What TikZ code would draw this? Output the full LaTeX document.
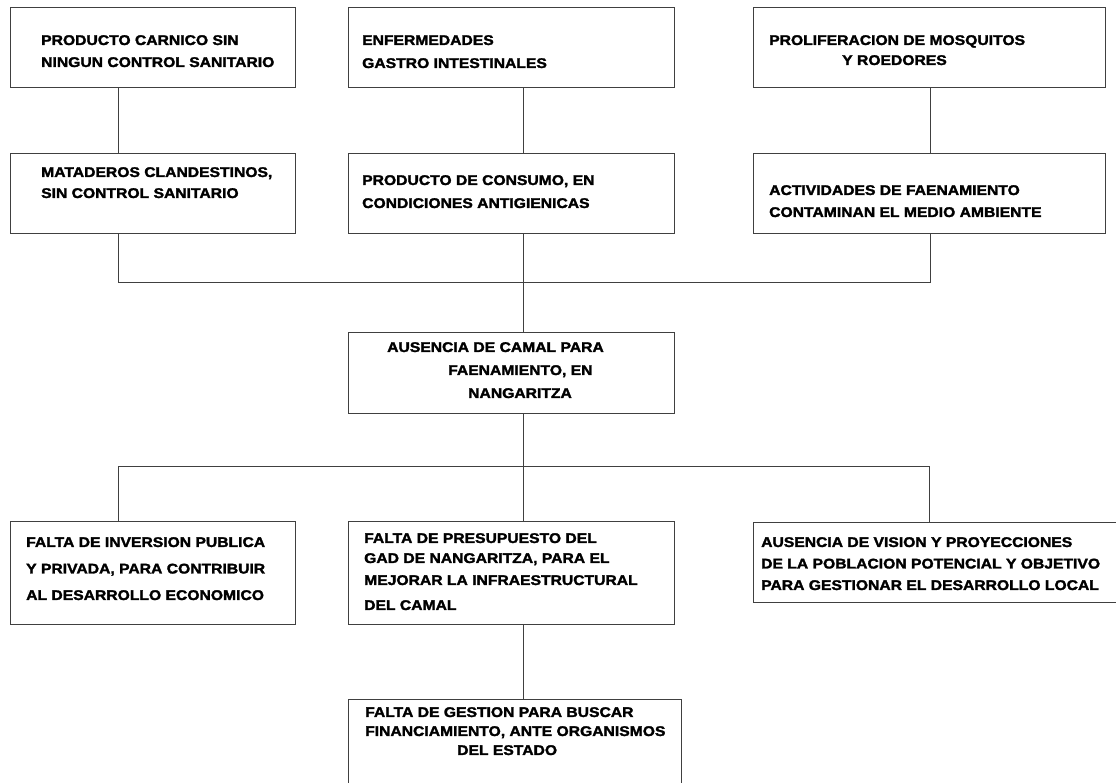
\documentclass[tikz,border=0pt]{standalone}
\usepackage{fontspec}
\newfontfamily\boxfont[FakeStretch=1.12,FakeBold=2]{Liberation Sans}
\begin{document}
\begin{tikzpicture}[x=1pt,y=-1pt,
  ln/.style={draw=black!75, line width=0.9pt},
  box/.style={ln, rectangle, inner sep=0pt, anchor=north west},
  txt/.style={anchor=north west, inner sep=0pt, align=left, text=black},
]
\useasboundingbox[fill=white] (0,0) rectangle (1116,782);
% boxes (north west corner, width, height)
\node[box, minimum width=285, minimum height=80] (b1) at (10,7) {};
\node[box, minimum width=326, minimum height=80] (b2) at (348,7) {};
\node[box, minimum width=352, minimum height=80] (b3) at (753,7) {};
\node[box, minimum width=285, minimum height=80] (b4) at (10,153) {};
\node[box, minimum width=326, minimum height=80] (b5) at (348,153) {};
\node[box, minimum width=352, minimum height=80] (b6) at (753,153) {};
\node[box, minimum width=326, minimum height=81] (c) at (348,332) {};
\node[box, minimum width=285, minimum height=103] (b7) at (10,521) {};
\node[box, minimum width=326, minimum height=103] (b8) at (348,521) {};
\node[box, minimum width=370, minimum height=80] (b9) at (753,522) {};
\node[box, minimum width=333, minimum height=110] (b10) at (348,699) {};
% texts
\node[txt, font={\boxfont\bfseries\fontsize{14}{22}\selectfont}] (t1) at (41,35)
  {PRODUCTO CARNICO SIN\\NINGUN CONTROL SANITARIO};
\node[txt, font={\boxfont\bfseries\fontsize{14}{23}\selectfont}] (t2) at (362,35)
  {ENFERMEDADES\\GASTRO INTESTINALES};
\node[txt, font={\boxfont\bfseries\fontsize{14}{20}\selectfont}] (t3) at (769,35)
  {PROLIFERACION DE MOSQUITOS\\\hspace*{73pt}Y ROEDORES};
\node[txt, font={\boxfont\bfseries\fontsize{14}{21}\selectfont}] (t4) at (41,167)
  {MATADEROS CLANDESTINOS,\\SIN CONTROL SANITARIO};
\node[txt, font={\boxfont\bfseries\fontsize{14}{23}\selectfont}] (t5) at (362,175)
  {PRODUCTO DE CONSUMO, EN\\CONDICIONES ANTIGIENICAS};
\node[txt, font={\boxfont\bfseries\fontsize{14}{22}\selectfont}] (t6) at (769,185)
  {ACTIVIDADES DE FAENAMIENTO\\CONTAMINAN EL MEDIO AMBIENTE};
\node[txt, font={\boxfont\bfseries\fontsize{14}{23}\selectfont}] (tc) at (387,342)
  {AUSENCIA DE CAMAL PARA\\\hspace*{61pt}FAENAMIENTO, EN\\\hspace*{81pt}NANGARITZA};
\node[txt, font={\boxfont\bfseries\fontsize{14}{26.5}\selectfont}] (t7) at (26,537)
  {FALTA DE INVERSION PUBLICA\\Y PRIVADA, PARA CONTRIBUIR\\AL DESARROLLO ECONOMICO};
\node[txt, font={\boxfont\bfseries\fontsize{14}{20}\selectfont}] (t8) at (364,533)
  {FALTA DE PRESUPUESTO DEL\\GAD DE NANGARITZA, PARA EL\\[2pt]MEJORAR LA INFRAESTRUCTURAL\\[5pt]DEL CAMAL};
\node[txt, font={\boxfont\bfseries\fontsize{14}{21.5}\selectfont}] (t9) at (761,537)
  {AUSENCIA DE VISION Y PROYECCIONES\\DE LA POBLACION POTENCIAL Y OBJETIVO\\PARA GESTIONAR EL DESARROLLO LOCAL};
\node[txt, font={\boxfont\bfseries\fontsize{14}{19}\selectfont}] (t10) at (365,707)
  {FALTA DE GESTION PARA BUSCAR\\FINANCIAMIENTO, ANTE ORGANISMOS\\\hspace*{92pt}DEL ESTADO};
% junction points
\coordinate (jL) at (118,282);
\coordinate (jC) at (523,282);
\coordinate (jR) at (930,282);
\coordinate (kL) at (118,466);
\coordinate (kC) at (523,466);
\coordinate (kR) at (929,466);
% connectors
\draw[ln] (b1.south -| jL) -- (b4.north -| jL);
\draw[ln] (b2.south -| jC) -- (b5.north -| jC);
\draw[ln] (b3.south -| jR) -- (b6.north -| jR);
\draw[ln] (b4.south -| jL) -- (jL) -- (jR) -- (b6.south -| jR);
\draw[ln] (b5.south -| jC) -- (c.north -| jC);
\draw[ln] (c.south -| kC) -- (b8.north -| kC);
\draw[ln] (b7.north -| kL) -- (kL) -- (kR) -- (b9.north -| kR);
\draw[ln] (b8.south -| kC) -- (b10.north -| kC);
\end{tikzpicture}
\end{document}
